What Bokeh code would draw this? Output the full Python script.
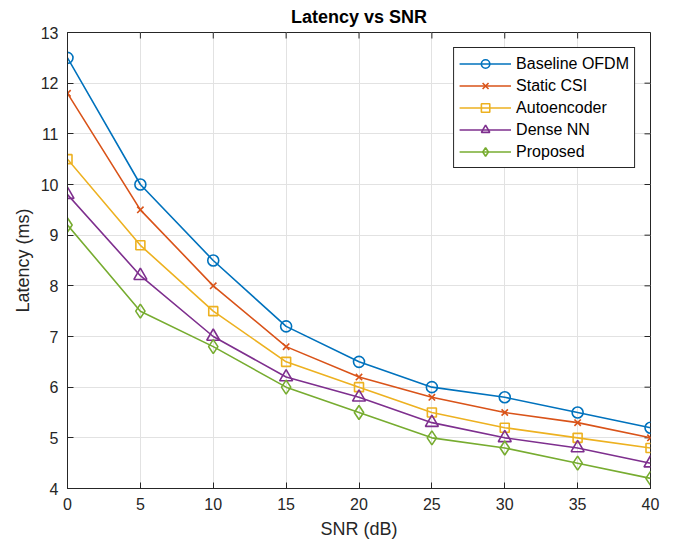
import math
from bokeh.plotting import figure
from bokeh.models import FixedTicker, Range1d, Legend
from bokeh.embed import file_html
from bokeh.resources import INLINE

snr = [0, 5, 10, 15, 20, 25, 30, 35, 40]
baseline_ofdm = [12.5, 10.0, 8.5, 7.2, 6.5, 6.0, 5.8, 5.5, 5.2]
static_csi = [11.8, 9.5, 8.0, 6.8, 6.2, 5.8, 5.5, 5.3, 5.0]
autoencoder = [10.5, 8.8, 7.5, 6.5, 6.0, 5.5, 5.2, 5.0, 4.8]
dense_nn = [9.8, 8.2, 7.0, 6.2, 5.8, 5.3, 5.0, 4.8, 4.5]
proposed = [9.2, 7.5, 6.8, 6.0, 5.5, 5.0, 4.8, 4.5, 4.2]

series_names = ["Baseline OFDM", "Static CSI", "Autoencoder", "Dense NN", "Proposed"]
series_values = [baseline_ofdm, static_csi, autoencoder, dense_nn, proposed]
colors = ["#0072BD", "#D95319", "#EDB120", "#7E2F8E", "#77AC30"]
markers = ["circle", "x", "square", "triangle", "diamond"]
msizes = [11, 9, 9, 13, 14]

x_ticks = [0, 5, 10, 15, 20, 25, 30, 35, 40]
y_ticks = [4, 5, 6, 7, 8, 9, 10, 11, 12, 13]

FONT = "Liberation Sans"
TXT = "#262626"

xmin, xmax = x_ticks[0], x_ticks[-1]
ymin, ymax = y_ticks[0], y_ticks[-1]

p = figure(width=667, height=541, output_backend="svg", toolbar_location=None,
           x_range=Range1d(xmin, xmax), y_range=Range1d(ymin, ymax),
           min_border_left=67, min_border_right=17, min_border_top=32, min_border_bottom=49)
p.title.text = "Latency vs SNR"
p.title.align = "center"
p.title.vertical_align = "top"
p.title.text_font = FONT
p.title.text_font_size = "18px"
p.title.text_font_style = "bold"
p.title.text_color = "#000000"
p.title.standoff = 8

p.outline_line_color = TXT
p.outline_line_width = 1
p.outline_line_alpha = 1
p.background_fill_color = "white"
p.border_fill_color = "white"

p.xaxis.ticker = FixedTicker(ticks=x_ticks)
p.yaxis.ticker = FixedTicker(ticks=y_ticks)

for ax in list(p.xaxis) + list(p.yaxis):
    ax.major_tick_in = 6
    ax.major_tick_out = 0
    ax.minor_tick_in = 0
    ax.minor_tick_out = 0
    ax.axis_line_color = TXT
    ax.major_tick_line_color = TXT
    ax.major_label_text_font = FONT
    ax.major_label_text_font_size = "16px"
    ax.major_label_text_color = TXT
    ax.axis_label_text_font = FONT
    ax.axis_label_text_font_size = "18px"
    ax.axis_label_text_font_style = "normal"
    ax.axis_label_text_color = TXT

p.xaxis.axis_label = "SNR (dB)"
p.yaxis.axis_label = "Latency (ms)"
p.xaxis.major_label_standoff = 9
p.yaxis.major_label_standoff = 9
p.xaxis.axis_label_standoff = 6
p.yaxis.axis_label_standoff = 5

# inward ticks on top and right edges of the box
p.ray(x=x_ticks, y=[ymax] * len(x_ticks), length=6, length_units="screen",
      angle=-math.pi / 2, line_color=TXT, line_width=1)
p.ray(x=[xmax] * len(y_ticks), y=y_ticks, length=6, length_units="screen",
      angle=math.pi, line_color=TXT, line_width=1)

p.xgrid.ticker = FixedTicker(ticks=x_ticks)
p.ygrid.ticker = FixedTicker(ticks=y_ticks)
p.grid.grid_line_color = "#e2e2e2"
p.grid.grid_line_width = 1

items = []
for name, vals, c, m, s in zip(series_names, series_values, colors, markers, msizes):
    r1 = p.line(snr, vals, line_color=c, line_width=1.6)
    r2 = p.scatter(snr, vals, marker=m, size=s, line_color=c, fill_color=None, line_width=1.6)
    items.append((name, [r1, r2]))

legend = Legend(items=items, location="top_right")
legend.label_text_font = FONT
legend.label_text_font_size = "16px"
legend.label_text_color = "#000000"
legend.border_line_color = TXT
legend.border_line_width = 1
legend.border_line_alpha = 1
legend.glyph_width = 52
legend.glyph_height = 21
legend.label_height = 21
legend.spacing = 1
legend.padding = 5
legend.margin = 15
legend.label_standoff = 5
legend.background_fill_alpha = 1
p.add_layout(legend)

open("out.html", "w").write(file_html(p, INLINE))
